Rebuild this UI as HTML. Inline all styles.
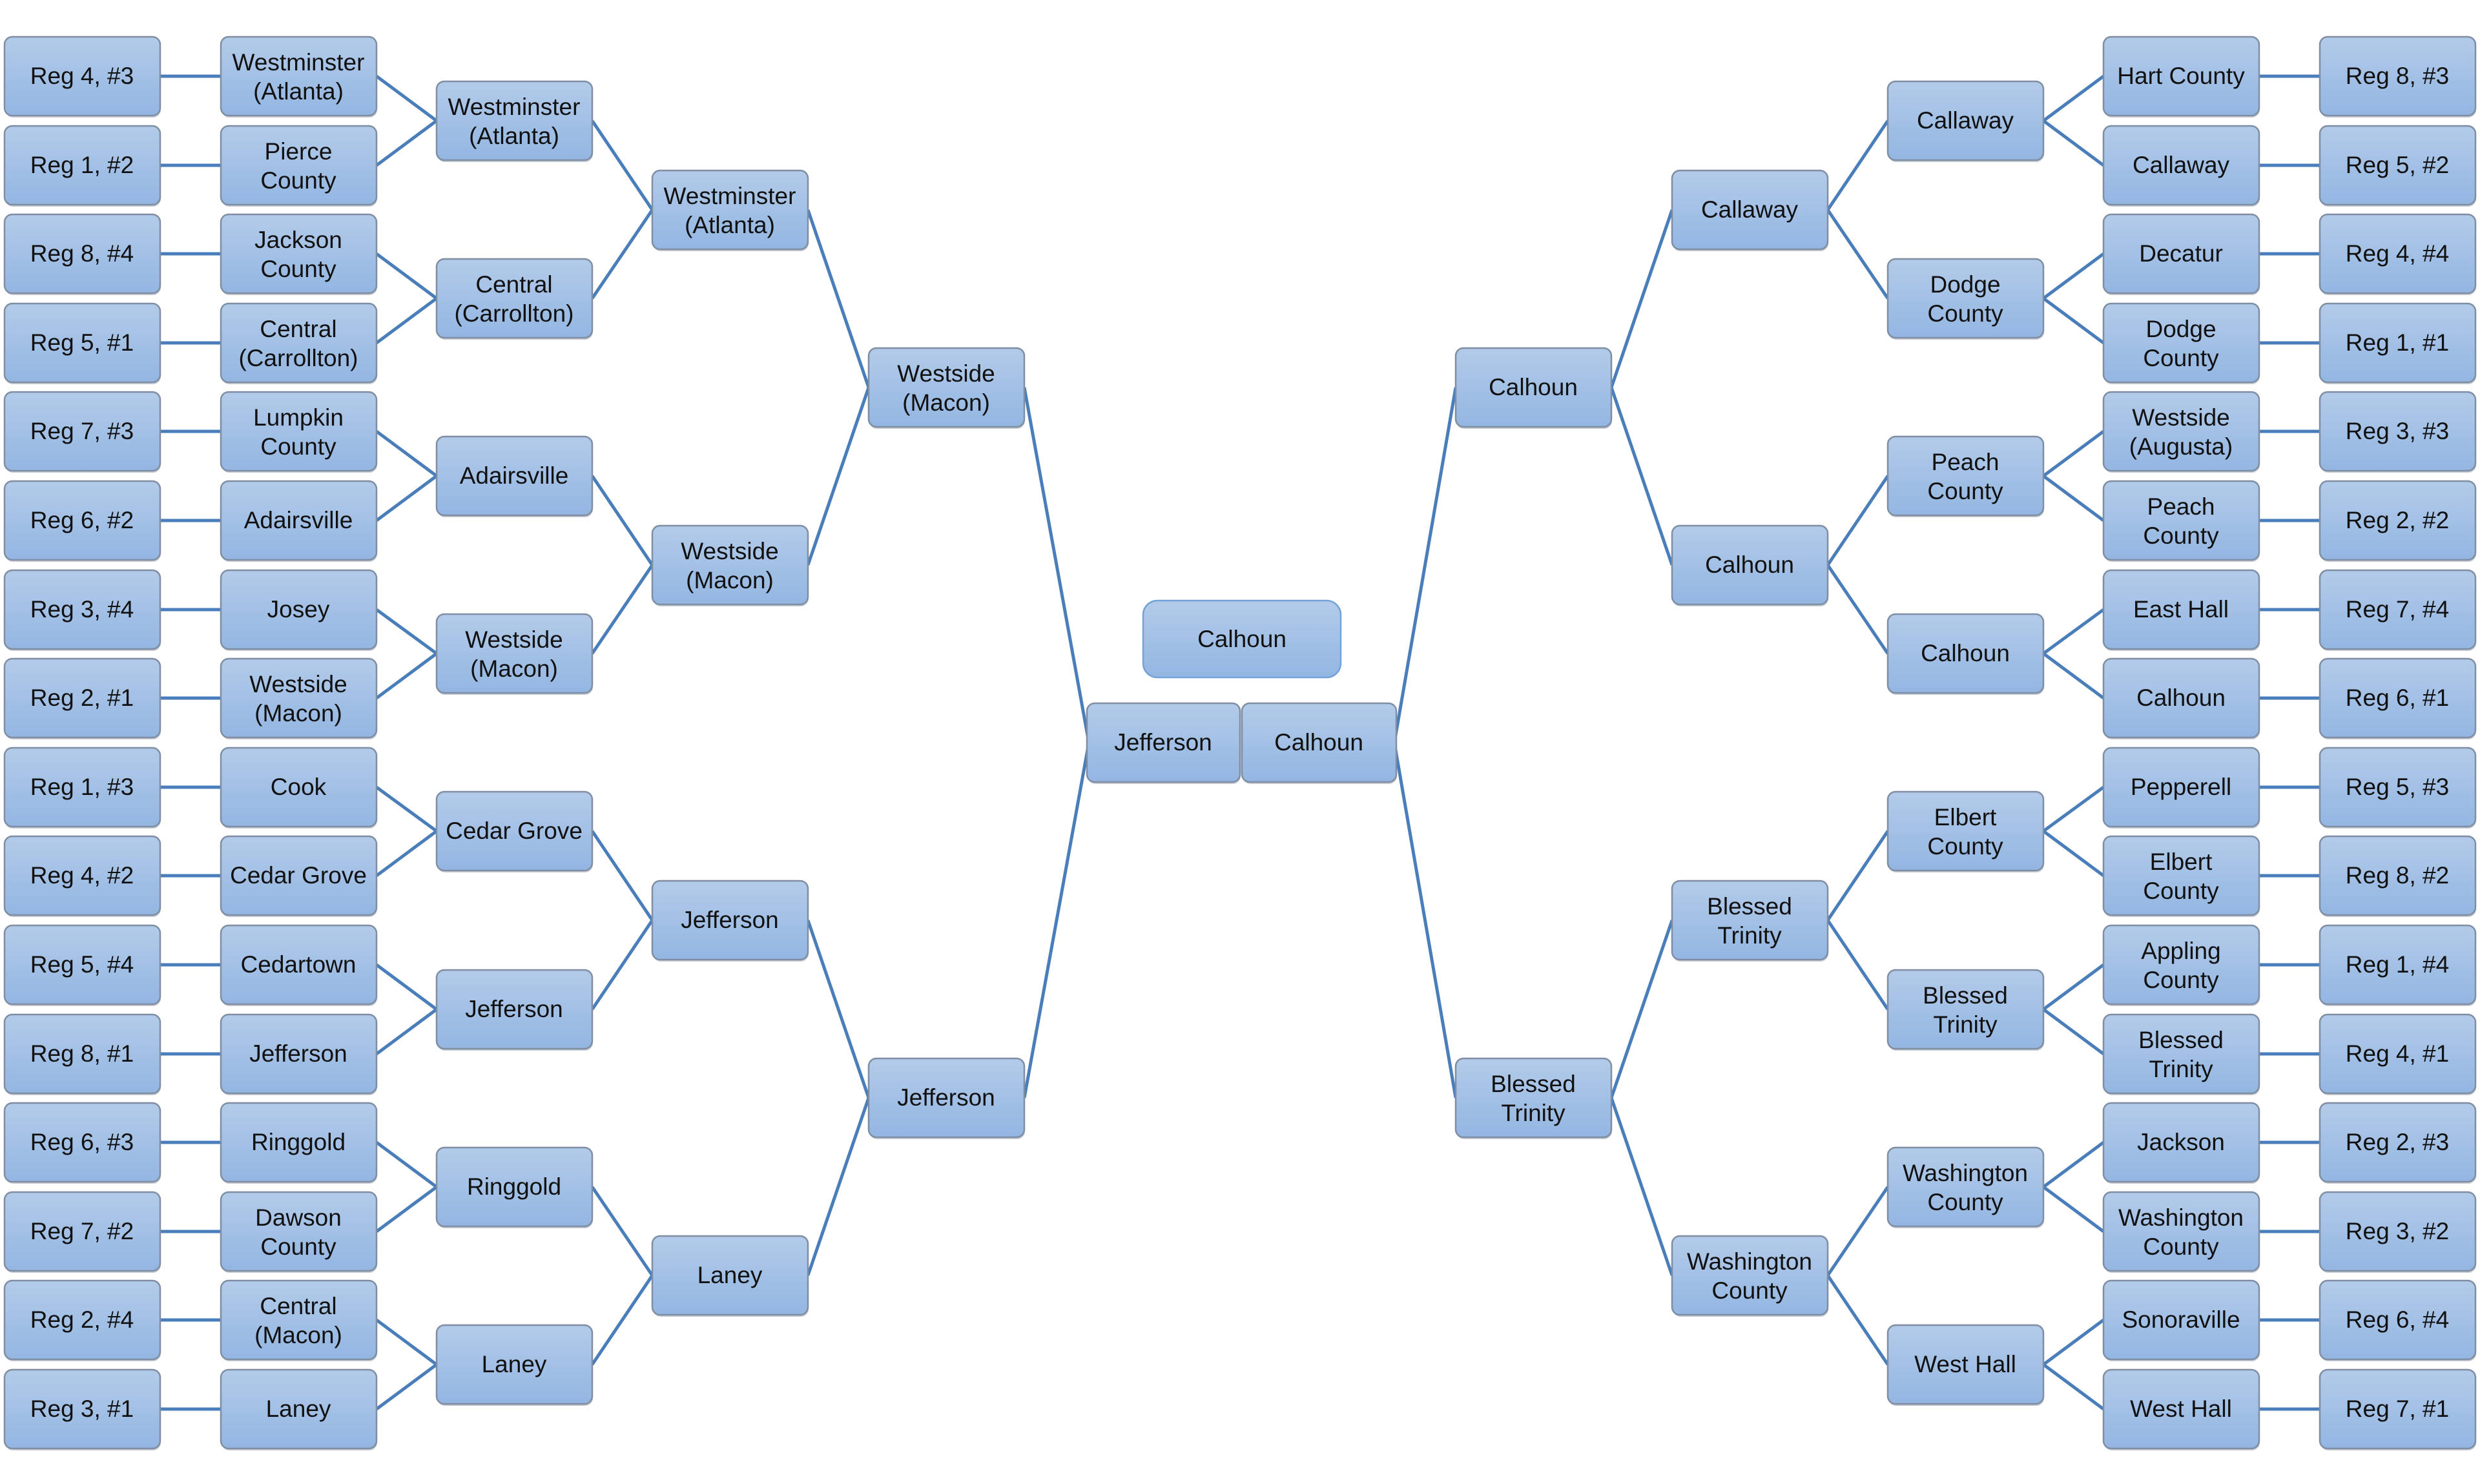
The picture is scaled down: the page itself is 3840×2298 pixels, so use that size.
<!DOCTYPE html>
<html><head><meta charset="utf-8"><style>
html,body{margin:0;padding:0;background:#fff;}
svg{display:block}
text{font-family:"Liberation Sans",sans-serif;font-size:37px;fill:#111;text-anchor:middle}
.b{fill:url(#g);stroke:#7f8ea3;stroke-width:2.5}
</style></head><body>
<svg width="3840" height="2298" viewBox="0 0 3840 2298" xmlns="http://www.w3.org/2000/svg">
<defs>
<linearGradient id="g" x1="0" y1="0" x2="0" y2="1"><stop offset="0" stop-color="#b3cbe9"/><stop offset="1" stop-color="#93b6e2"/></linearGradient>
<symbol id="s" overflow="visible"><rect x="1" y="3" width="241" height="122" rx="12" fill="#9aa3ae" opacity=".55"/><rect width="241" height="122" rx="12" class="b"/></symbol>
</defs>
<g fill="none" stroke="#4a7ebb" stroke-width="5">
<path d="M248 118H342M248 256H342M248 393H342M248 531H342M248 668H342M248 806H342M248 944H342M248 1081H342M248 1219H342M248 1356H342M248 1494H342M248 1632H342M248 1769H342M248 1907H342M248 2044H342M248 2182H342
M583 118L676 187M583 256L676 187M583 393L676 462M583 531L676 462M583 668L676 737M583 806L676 737M583 944L676 1012M583 1081L676 1012M583 1219L676 1287M583 1356L676 1287M583 1494L676 1563M583 1632L676 1563M583 1769L676 1838M583 1907L676 1838M583 2044L676 2113M583 2182L676 2113
M917 187L1010 325M917 462L1010 325M917 737L1010 875M917 1012L1010 875M917 1287L1010 1425M917 1563L1010 1425M917 1838L1010 1975M917 2113L1010 1975
M1251 325L1345 600M1251 875L1345 600M1251 1425L1345 1700M1251 1975L1345 1700
M1586 600L1686 1150M1586 1700L1686 1150"/>
<path d="M3592 118H3498M3592 256H3498M3592 393H3498M3592 531H3498M3592 668H3498M3592 806H3498M3592 944H3498M3592 1081H3498M3592 1219H3498M3592 1356H3498M3592 1494H3498M3592 1632H3498M3592 1769H3498M3592 1907H3498M3592 2044H3498M3592 2182H3498
M3257 118L3164 187M3257 256L3164 187M3257 393L3164 462M3257 531L3164 462M3257 668L3164 737M3257 806L3164 737M3257 944L3164 1012M3257 1081L3164 1012M3257 1219L3164 1287M3257 1356L3164 1287M3257 1494L3164 1563M3257 1632L3164 1563M3257 1769L3164 1838M3257 1907L3164 1838M3257 2044L3164 2113M3257 2182L3164 2113
M2923 187L2830 325M2923 462L2830 325M2923 737L2830 875M2923 1012L2830 875M2923 1287L2830 1425M2923 1563L2830 1425M2923 1838L2830 1975M2923 2113L2830 1975
M2589 325L2495 600M2589 875L2495 600M2589 1425L2495 1700M2589 1975L2495 1700
M2254 600L2159 1150M2254 1700L2159 1150"/>
</g>

<!-- LEFT col0 -->
<g transform="translate(7,57)"><use href="#s"/><text x="120" y="73">Reg 4, #3</text></g>
<g transform="translate(7,195)"><use href="#s"/><text x="120" y="73">Reg 1, #2</text></g>
<g transform="translate(7,332)"><use href="#s"/><text x="120" y="73">Reg 8, #4</text></g>
<g transform="translate(7,470)"><use href="#s"/><text x="120" y="73">Reg 5, #1</text></g>
<g transform="translate(7,607)"><use href="#s"/><text x="120" y="73">Reg 7, #3</text></g>
<g transform="translate(7,745)"><use href="#s"/><text x="120" y="73">Reg 6, #2</text></g>
<g transform="translate(7,883)"><use href="#s"/><text x="120" y="73">Reg 3, #4</text></g>
<g transform="translate(7,1020)"><use href="#s"/><text x="120" y="73">Reg 2, #1</text></g>
<g transform="translate(7,1158)"><use href="#s"/><text x="120" y="73">Reg 1, #3</text></g>
<g transform="translate(7,1295)"><use href="#s"/><text x="120" y="73">Reg 4, #2</text></g>
<g transform="translate(7,1433)"><use href="#s"/><text x="120" y="73">Reg 5, #4</text></g>
<g transform="translate(7,1571)"><use href="#s"/><text x="120" y="73">Reg 8, #1</text></g>
<g transform="translate(7,1708)"><use href="#s"/><text x="120" y="73">Reg 6, #3</text></g>
<g transform="translate(7,1846)"><use href="#s"/><text x="120" y="73">Reg 7, #2</text></g>
<g transform="translate(7,1983)"><use href="#s"/><text x="120" y="73">Reg 2, #4</text></g>
<g transform="translate(7,2121)"><use href="#s"/><text x="120" y="73">Reg 3, #1</text></g>

<!-- LEFT col1 -->
<g transform="translate(342,57)"><use href="#s"/><text x="120" y="52">Westminster</text><text x="120" y="97">(Atlanta)</text></g>
<g transform="translate(342,195)"><use href="#s"/><text x="120" y="52">Pierce</text><text x="120" y="97">County</text></g>
<g transform="translate(342,332)"><use href="#s"/><text x="120" y="52">Jackson</text><text x="120" y="97">County</text></g>
<g transform="translate(342,470)"><use href="#s"/><text x="120" y="52">Central</text><text x="120" y="97">(Carrollton)</text></g>
<g transform="translate(342,607)"><use href="#s"/><text x="120" y="52">Lumpkin</text><text x="120" y="97">County</text></g>
<g transform="translate(342,745)"><use href="#s"/><text x="120" y="73">Adairsville</text></g>
<g transform="translate(342,883)"><use href="#s"/><text x="120" y="73">Josey</text></g>
<g transform="translate(342,1020)"><use href="#s"/><text x="120" y="52">Westside</text><text x="120" y="97">(Macon)</text></g>
<g transform="translate(342,1158)"><use href="#s"/><text x="120" y="73">Cook</text></g>
<g transform="translate(342,1295)"><use href="#s"/><text x="120" y="73">Cedar Grove</text></g>
<g transform="translate(342,1433)"><use href="#s"/><text x="120" y="73">Cedartown</text></g>
<g transform="translate(342,1571)"><use href="#s"/><text x="120" y="73">Jefferson</text></g>
<g transform="translate(342,1708)"><use href="#s"/><text x="120" y="73">Ringgold</text></g>
<g transform="translate(342,1846)"><use href="#s"/><text x="120" y="52">Dawson</text><text x="120" y="97">County</text></g>
<g transform="translate(342,1983)"><use href="#s"/><text x="120" y="52">Central</text><text x="120" y="97">(Macon)</text></g>
<g transform="translate(342,2121)"><use href="#s"/><text x="120" y="73">Laney</text></g>

<!-- LEFT col2 -->
<g transform="translate(676,126)"><use href="#s"/><text x="120" y="52">Westminster</text><text x="120" y="97">(Atlanta)</text></g>
<g transform="translate(676,401)"><use href="#s"/><text x="120" y="52">Central</text><text x="120" y="97">(Carrollton)</text></g>
<g transform="translate(676,676)"><use href="#s"/><text x="120" y="73">Adairsville</text></g>
<g transform="translate(676,951)"><use href="#s"/><text x="120" y="52">Westside</text><text x="120" y="97">(Macon)</text></g>
<g transform="translate(676,1226)"><use href="#s"/><text x="120" y="73">Cedar Grove</text></g>
<g transform="translate(676,1502)"><use href="#s"/><text x="120" y="73">Jefferson</text></g>
<g transform="translate(676,1777)"><use href="#s"/><text x="120" y="73">Ringgold</text></g>
<g transform="translate(676,2052)"><use href="#s"/><text x="120" y="73">Laney</text></g>

<!-- LEFT col3 -->
<g transform="translate(1010,264)"><use href="#s"/><text x="120" y="52">Westminster</text><text x="120" y="97">(Atlanta)</text></g>
<g transform="translate(1010,814)"><use href="#s"/><text x="120" y="52">Westside</text><text x="120" y="97">(Macon)</text></g>
<g transform="translate(1010,1364)"><use href="#s"/><text x="120" y="73">Jefferson</text></g>
<g transform="translate(1010,1914)"><use href="#s"/><text x="120" y="73">Laney</text></g>

<!-- LEFT col4 -->
<g transform="translate(1345,539)"><use href="#s"/><text x="120" y="52">Westside</text><text x="120" y="97">(Macon)</text></g>
<g transform="translate(1345,1639)"><use href="#s"/><text x="120" y="73">Jefferson</text></g>

<!-- Final -->
<rect x="1684" y="1092" width="237" height="122" rx="12" fill="#9aa3ae" opacity=".55"/>
<rect x="1683" y="1089" width="237" height="122" rx="12" class="b"/>
<text x="1801" y="1162">Jefferson</text>
<rect x="1924" y="1092" width="239" height="122" rx="12" fill="#9aa3ae" opacity=".55"/>
<rect x="1923" y="1089" width="239" height="122" rx="12" class="b"/>
<text x="2042" y="1162">Calhoun</text>

<!-- Champion -->
<rect x="1770" y="930" width="306" height="119" rx="22" fill="url(#g)" stroke="#74a3d9" stroke-width="2.5"/>
<text x="1923" y="1002">Calhoun</text>

<!-- RIGHT col4 -->
<g transform="translate(2254,539)"><use href="#s"/><text x="120" y="73">Calhoun</text></g>
<g transform="translate(2254,1639)"><use href="#s"/><text x="120" y="52">Blessed</text><text x="120" y="97">Trinity</text></g>

<!-- RIGHT col3 -->
<g transform="translate(2589,264)"><use href="#s"/><text x="120" y="73">Callaway</text></g>
<g transform="translate(2589,814)"><use href="#s"/><text x="120" y="73">Calhoun</text></g>
<g transform="translate(2589,1364)"><use href="#s"/><text x="120" y="52">Blessed</text><text x="120" y="97">Trinity</text></g>
<g transform="translate(2589,1914)"><use href="#s"/><text x="120" y="52">Washington</text><text x="120" y="97">County</text></g>

<!-- RIGHT col2 -->
<g transform="translate(2923,126)"><use href="#s"/><text x="120" y="73">Callaway</text></g>
<g transform="translate(2923,401)"><use href="#s"/><text x="120" y="52">Dodge</text><text x="120" y="97">County</text></g>
<g transform="translate(2923,676)"><use href="#s"/><text x="120" y="52">Peach</text><text x="120" y="97">County</text></g>
<g transform="translate(2923,951)"><use href="#s"/><text x="120" y="73">Calhoun</text></g>
<g transform="translate(2923,1226)"><use href="#s"/><text x="120" y="52">Elbert</text><text x="120" y="97">County</text></g>
<g transform="translate(2923,1502)"><use href="#s"/><text x="120" y="52">Blessed</text><text x="120" y="97">Trinity</text></g>
<g transform="translate(2923,1777)"><use href="#s"/><text x="120" y="52">Washington</text><text x="120" y="97">County</text></g>
<g transform="translate(2923,2052)"><use href="#s"/><text x="120" y="73">West Hall</text></g>

<!-- RIGHT col1 -->
<g transform="translate(3257,57)"><use href="#s"/><text x="120" y="73">Hart County</text></g>
<g transform="translate(3257,195)"><use href="#s"/><text x="120" y="73">Callaway</text></g>
<g transform="translate(3257,332)"><use href="#s"/><text x="120" y="73">Decatur</text></g>
<g transform="translate(3257,470)"><use href="#s"/><text x="120" y="52">Dodge</text><text x="120" y="97">County</text></g>
<g transform="translate(3257,607)"><use href="#s"/><text x="120" y="52">Westside</text><text x="120" y="97">(Augusta)</text></g>
<g transform="translate(3257,745)"><use href="#s"/><text x="120" y="52">Peach</text><text x="120" y="97">County</text></g>
<g transform="translate(3257,883)"><use href="#s"/><text x="120" y="73">East Hall</text></g>
<g transform="translate(3257,1020)"><use href="#s"/><text x="120" y="73">Calhoun</text></g>
<g transform="translate(3257,1158)"><use href="#s"/><text x="120" y="73">Pepperell</text></g>
<g transform="translate(3257,1295)"><use href="#s"/><text x="120" y="52">Elbert</text><text x="120" y="97">County</text></g>
<g transform="translate(3257,1433)"><use href="#s"/><text x="120" y="52">Appling</text><text x="120" y="97">County</text></g>
<g transform="translate(3257,1571)"><use href="#s"/><text x="120" y="52">Blessed</text><text x="120" y="97">Trinity</text></g>
<g transform="translate(3257,1708)"><use href="#s"/><text x="120" y="73">Jackson</text></g>
<g transform="translate(3257,1846)"><use href="#s"/><text x="120" y="52">Washington</text><text x="120" y="97">County</text></g>
<g transform="translate(3257,1983)"><use href="#s"/><text x="120" y="73">Sonoraville</text></g>
<g transform="translate(3257,2121)"><use href="#s"/><text x="120" y="73">West Hall</text></g>

<!-- RIGHT col0 -->
<g transform="translate(3592,57)"><use href="#s"/><text x="120" y="73">Reg 8, #3</text></g>
<g transform="translate(3592,195)"><use href="#s"/><text x="120" y="73">Reg 5, #2</text></g>
<g transform="translate(3592,332)"><use href="#s"/><text x="120" y="73">Reg 4, #4</text></g>
<g transform="translate(3592,470)"><use href="#s"/><text x="120" y="73">Reg 1, #1</text></g>
<g transform="translate(3592,607)"><use href="#s"/><text x="120" y="73">Reg 3, #3</text></g>
<g transform="translate(3592,745)"><use href="#s"/><text x="120" y="73">Reg 2, #2</text></g>
<g transform="translate(3592,883)"><use href="#s"/><text x="120" y="73">Reg 7, #4</text></g>
<g transform="translate(3592,1020)"><use href="#s"/><text x="120" y="73">Reg 6, #1</text></g>
<g transform="translate(3592,1158)"><use href="#s"/><text x="120" y="73">Reg 5, #3</text></g>
<g transform="translate(3592,1295)"><use href="#s"/><text x="120" y="73">Reg 8, #2</text></g>
<g transform="translate(3592,1433)"><use href="#s"/><text x="120" y="73">Reg 1, #4</text></g>
<g transform="translate(3592,1571)"><use href="#s"/><text x="120" y="73">Reg 4, #1</text></g>
<g transform="translate(3592,1708)"><use href="#s"/><text x="120" y="73">Reg 2, #3</text></g>
<g transform="translate(3592,1846)"><use href="#s"/><text x="120" y="73">Reg 3, #2</text></g>
<g transform="translate(3592,1983)"><use href="#s"/><text x="120" y="73">Reg 6, #4</text></g>
<g transform="translate(3592,2121)"><use href="#s"/><text x="120" y="73">Reg 7, #1</text></g>
</svg>
</body></html>
